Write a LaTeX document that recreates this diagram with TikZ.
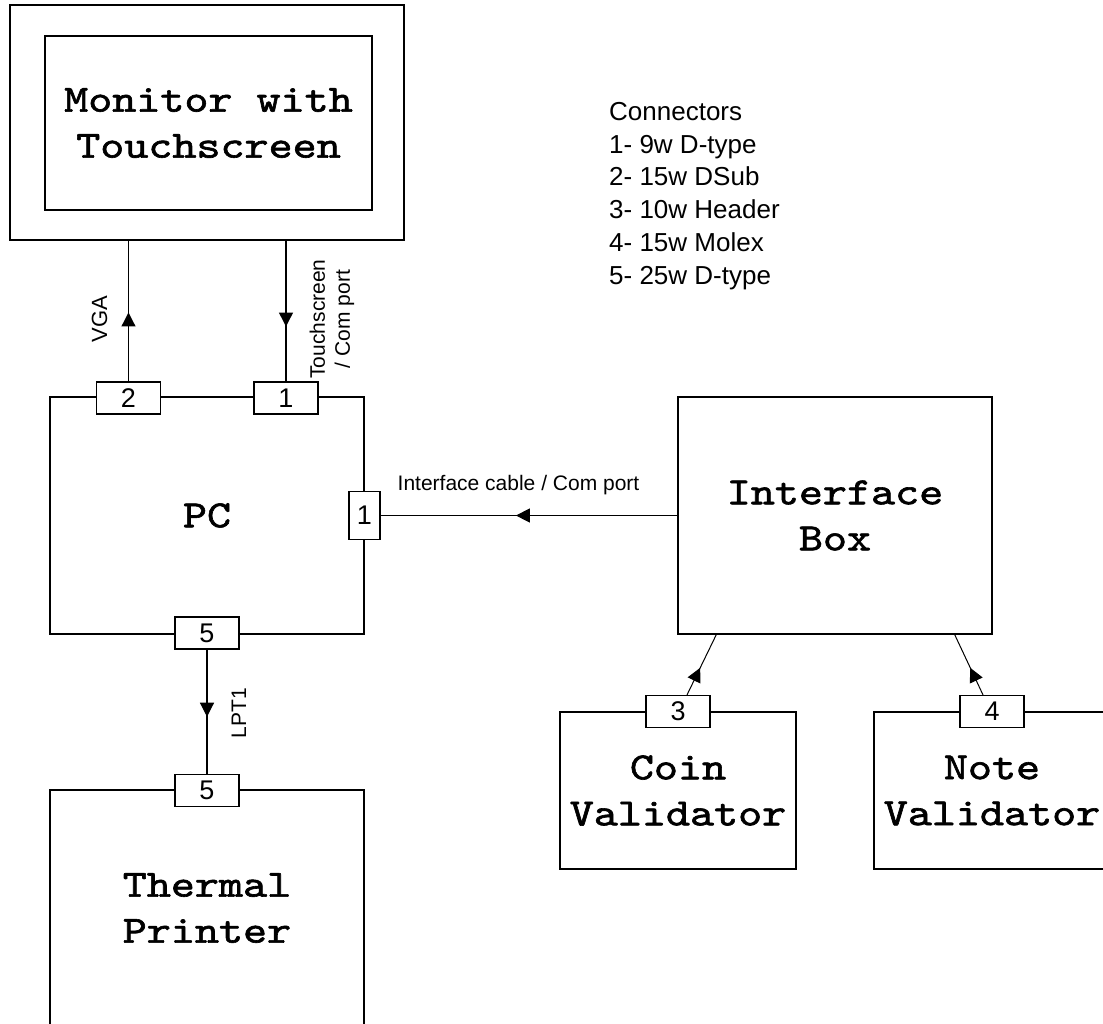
\documentclass[tikz,border=0pt]{standalone}
\usepackage{fontspec}
\setmainfont{Liberation Sans}
\newfontfamily\boxfont{lmmono10-regular.otf}[FakeStretch=1.19,FakeBold=1.6]
\usetikzlibrary{arrows.meta,decorations.markings}
\tikzset{
  box/.style={draw, line width=1.5pt, rectangle, inner sep=0pt, align=center,
    font=\boxfont\fontsize{38.5}{46}\selectfont},
  port/.style={draw, fill=white, line width=1.2pt, rectangle, inner sep=0pt,
    minimum width=64pt, minimum height=32pt, font=\fontsize{27}{30}\selectfont},
  vport/.style={port, minimum width=31pt, minimum height=48pt},
  cable/.style={line width=1.2pt},
  midarrow/.style={postaction={decorate}, decoration={markings,
    mark=at position #1 with {\arrow{Triangle[width=14pt,length=14pt]}}}},
  lbl/.style={inner sep=0pt, font=\fontsize{21}{25}\selectfont},
}
\begin{document}
\begin{tikzpicture}[x=1pt,y=-1pt]
\useasboundingbox (0,0) rectangle (1103,1023);
\clip (0,0) rectangle (1103,1023);
\fill[white] (0,0) rectangle (1103,1023);

% main boxes
\node[box, minimum width=394pt, minimum height=235pt] (monout) at (207,122.5) {};
\node[box, minimum width=327pt, minimum height=174pt] (monin) at (208.5,123) {Monitor with\\Touchscreen};
\node[box, minimum width=314pt, minimum height=237pt] (pc) at (207,515.5) {PC};
\node[box, minimum width=314pt, minimum height=237pt] (ibox) at (835,515.5) {Interface\\Box};
\node[box, minimum width=314pt, minimum height=236pt] (printer) at (207,908) {Thermal\\Printer};
\node[box, minimum width=236pt, minimum height=157pt] (coin) at (678,790.5) {Coin\\Validator};
\node[box, minimum width=236pt, minimum height=157pt] (note) at (992,790.5) {Note\\Validator};

% connector ports
\node[port] (p2) at (128.5,398) {2};
\node[port] (p1) at (286,398) {1};
\node[vport] (p1r) at (364.5,515.5) {1};
\node[port] (p5a) at (207,633) {5};
\node[port] (p5b) at (207,790.5) {5};
\node[port] (p3) at (678,711.5) {3};
\node[port] (p4) at (992,711.5) {4};

% cables
\draw[cable, midarrow=0.49] (p2.north) -- (p2.north |- monout.south);
\draw[cable, midarrow=0.61] (p1.north |- monout.south) -- (p1.north);
\draw[cable, midarrow=0.544] (ibox.west) -- (p1r.east);
\draw[cable, midarrow=0.54] (p5a.south) -- (p5b.north);
\draw[cable, line width=1pt, midarrow=0.45] ([xshift=9pt]p3.north) -- ([xshift=39pt]ibox.south west);
\draw[cable, line width=1pt, midarrow=0.45] ([xshift=-9pt]p4.north) -- ([xshift=-38pt]ibox.south east);

% cable labels
\node[lbl, rotate=90, anchor=base, font=\fontsize{22}{26}\selectfont] (vga) at (107,319) {VGA};
\node[lbl, rotate=90, align=center] (ts) at (332,319) {Touchscreen\\/ Com port};
\node[lbl, anchor=base] (ic) at (518.5,490) {Interface cable / Com port};
\node[lbl, rotate=90, anchor=base] (lpt) at (246,713) {LPT1};

% legend
\node[inner sep=0pt, align=left, anchor=north west, font=\fontsize{26}{32.8}\selectfont] (legend) at (609,102)
  {Connectors\\1- 9w D-type\\2- 15w DSub\\3- 10w Header\\4- 15w Molex\\5- 25w D-type};
\end{tikzpicture}
\end{document}
